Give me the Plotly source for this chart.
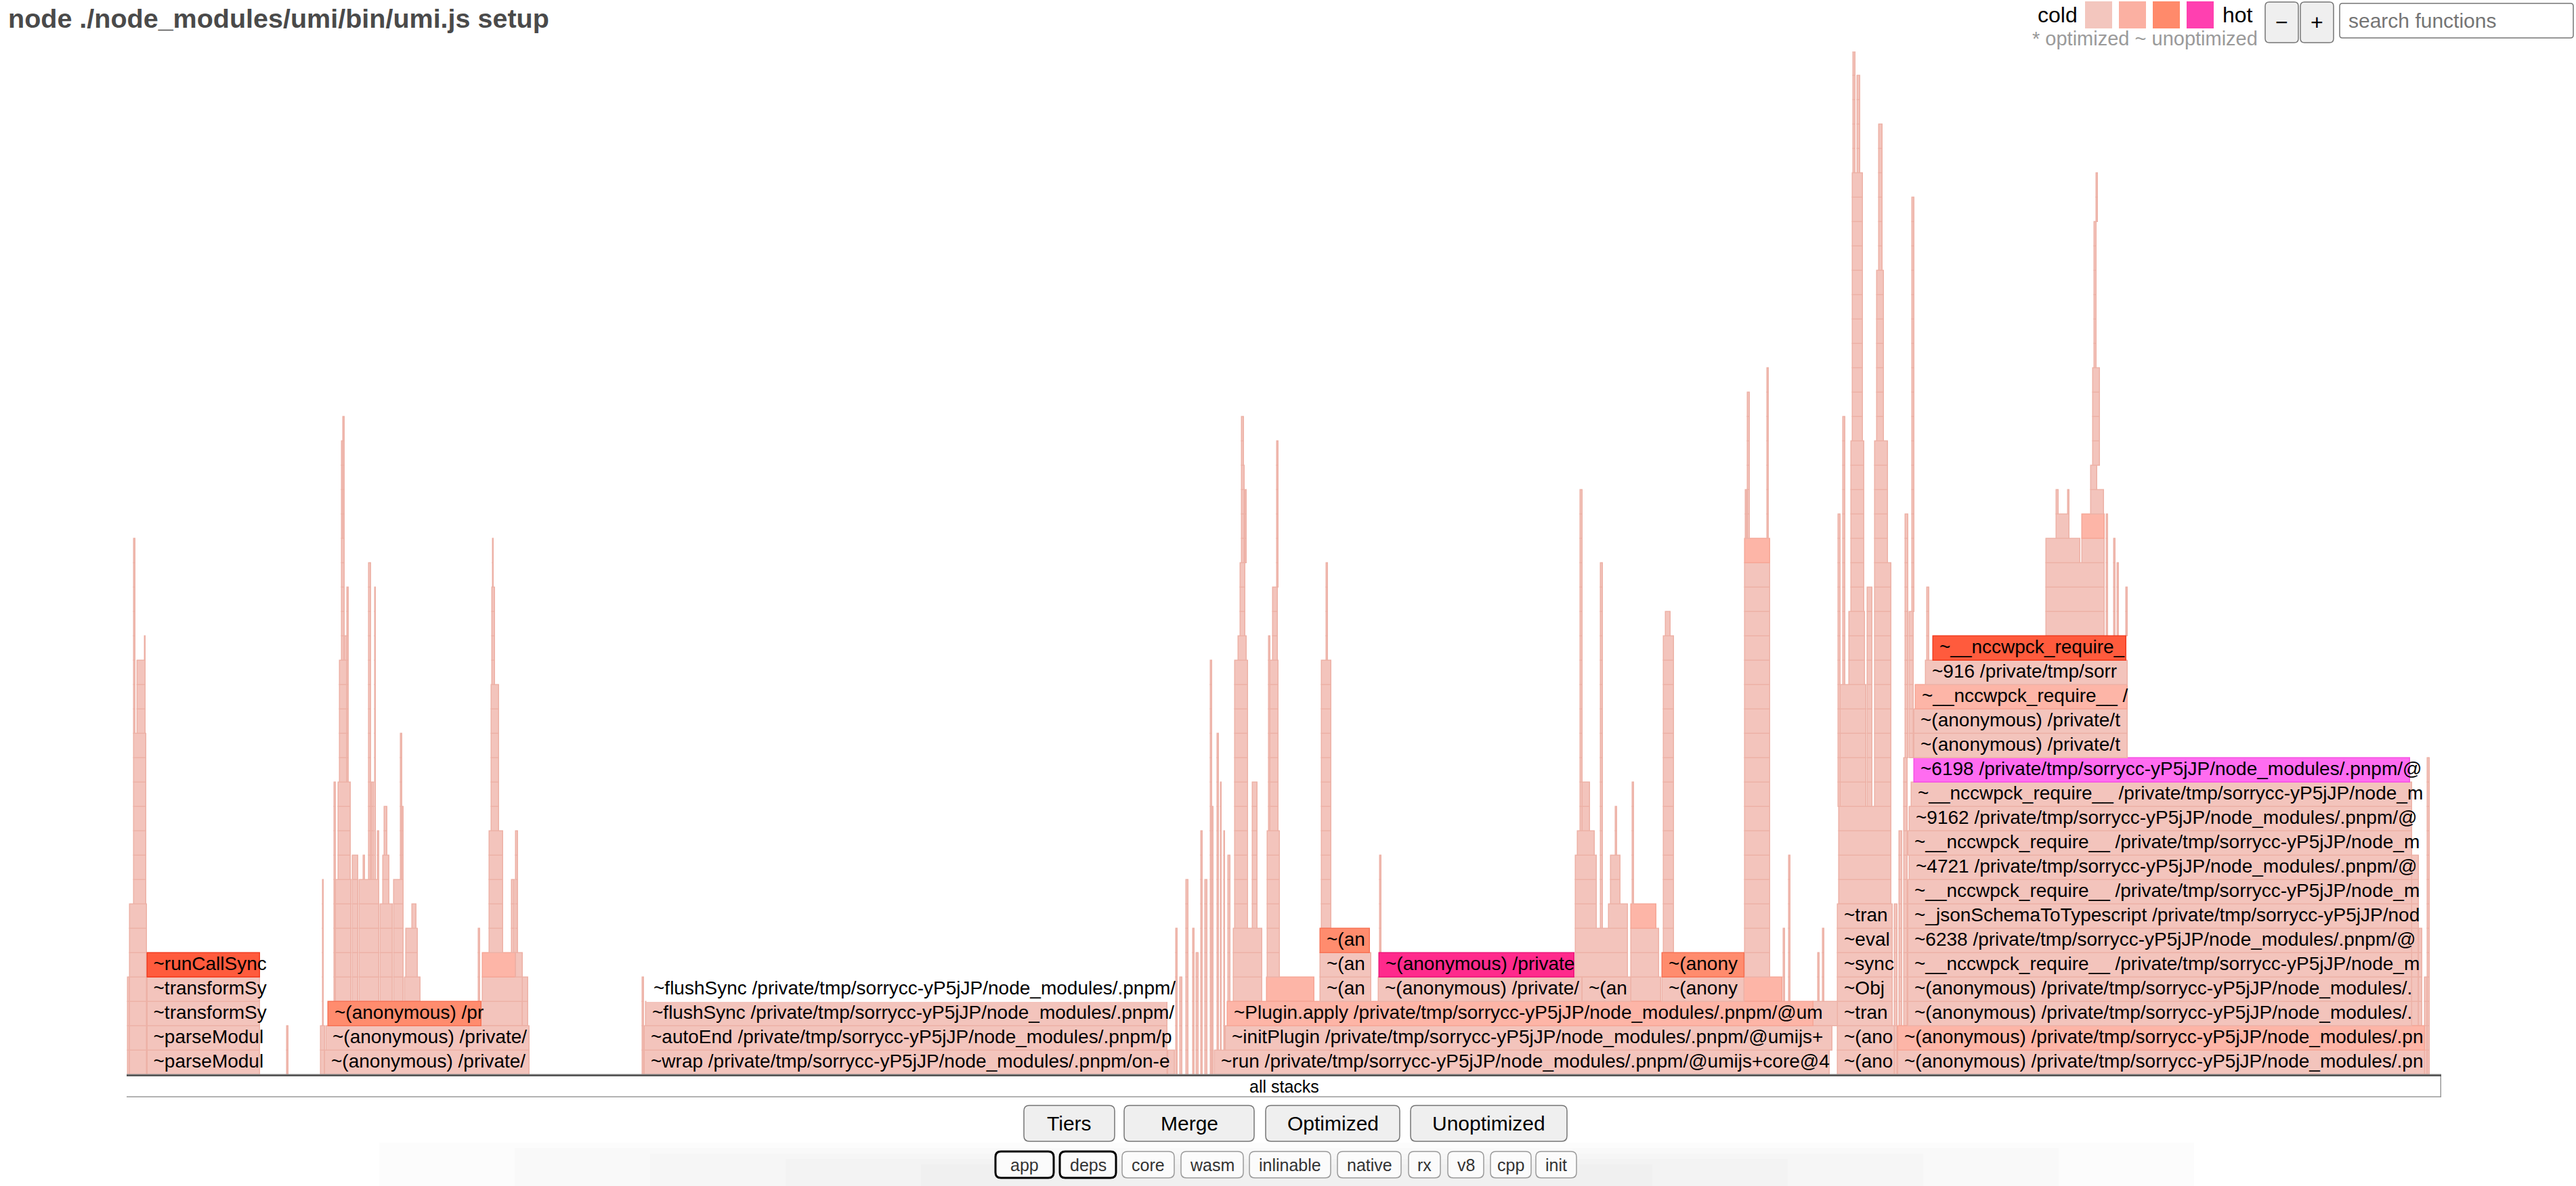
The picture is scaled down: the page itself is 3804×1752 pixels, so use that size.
import plotly.graph_objects as go

# --- page geometry (pixels of the 3804x1752 page) ---
W, H = 3804, 1752
L, R, T, B = 187, 3605, 76, 1624      # plot area
TOTAL = 3418                          # samples across the graph
MAX_DEPTH = 42
FONT = "Liberation Sans, Arial, Helvetica, sans-serif"

# heat index -> fill / edge
HEAT_FILL = ["#F3C4BC", "#FDB5A7", "#FF8C6E", "#FF5B3D", "#FF2A8C", "#FF6CF0", "#FFFFFF"]
HEAT_EDGE = ["#EDB1A6", "#F6A696", "#F77255", "#F23B1F", "#EC1679", "#F550E2", "#FFFFFF"]

# --- labelled frames: (start, end, depth, label, heat) ---
run_call_stack = [
    (30.5, 197, 0, "~parseModul", 0),
    (30.5, 197, 1, "~parseModul", 0),
    (30.5, 197, 2, "~transformSy", 0),
    (30.5, 197, 3, "~transformSy", 0),
    (30.5, 197, 4, "~runCallSync", 3),
]
anon_stack = [
    (293, 595, 0, "~(anonymous) /private/", 0),
    (295, 595, 1, "~(anonymous) /private/", 0),
    (298, 524, 2, "~(anonymous) /pr", 2),
]
flush_stack = [
    (765, 1537, 0, "~wrap /private/tmp/sorrycc-yP5jJP/node_modules/.pnpm/on-e", 0),
    (765, 1537, 1, "~autoEnd /private/tmp/sorrycc-yP5jJP/node_modules/.pnpm/p", 0),
    (767, 1537, 2, "~flushSync /private/tmp/sorrycc-yP5jJP/node_modules/.pnpm/", 0),
    (769, 1537, 3, "~flushSync /private/tmp/sorrycc-yP5jJP/node_modules/.pnpm/", 6),
]
run_stack = [
    (1607, 2515, 0, "~run /private/tmp/sorrycc-yP5jJP/node_modules/.pnpm/@umijs+core@4", 0),
    (1623, 2519, 1, "~initPlugin /private/tmp/sorrycc-yP5jJP/node_modules/.pnpm/@umijs+", 0),
    (1626, 2491, 2, "~Plugin.apply /private/tmp/sorrycc-yP5jJP/node_modules/.pnpm/@um", 1),
    (1763, 1838, 3, "~(an", 0),
    (1763, 1838, 4, "~(an", 0),
    (1763, 1836, 5, "~(an", 2),
    (1849, 2150, 3, "~(anonymous) /private/", 0),
    (1850, 2138, 4, "~(anonymous) /private", 4),
    (2150, 2222, 3, "~(an", 0),
    (2268, 2389, 3, "~(anony", 0),
    (2268, 2389, 4, "~(anony", 2),
]
tran_stack = [
    (2527, 2611, 0, "~(ano", 0),
    (2527, 2611, 1, "~(ano", 0),
    (2527, 2608, 2, "~tran", 0),
    (2527, 2608, 3, "~Obj", 0),
    (2527, 2608, 4, "~sync", 0),
    (2527, 2608, 5, "~eval", 0),
    (2527, 2608, 6, "~tran", 0),
]
schema_stack = [
    (2616, 3394, 0, "~(anonymous) /private/tmp/sorrycc-yP5jJP/node_modules/.pn", 0),
    (2616, 3394, 1, "~(anonymous) /private/tmp/sorrycc-yP5jJP/node_modules/.pn", 1),
    (2631, 3375, 2, "~(anonymous) /private/tmp/sorrycc-yP5jJP/node_modules/.", 0),
    (2631, 3375, 3, "~(anonymous) /private/tmp/sorrycc-yP5jJP/node_modules/.", 0),
    (2631, 3375, 4, "~__nccwpck_require__ /private/tmp/sorrycc-yP5jJP/node_m", 0),
    (2631, 3375, 5, "~6238 /private/tmp/sorrycc-yP5jJP/node_modules/.pnpm/@", 0),
    (2631, 3375, 6, "~_jsonSchemaToTypescript /private/tmp/sorrycc-yP5jJP/nod", 0),
    (2631, 3375, 7, "~__nccwpck_require__ /private/tmp/sorrycc-yP5jJP/node_m", 0),
    (2633, 3375, 8, "~4721 /private/tmp/sorrycc-yP5jJP/node_modules/.pnpm/@", 0),
    (2631, 3375, 9, "~__nccwpck_require__ /private/tmp/sorrycc-yP5jJP/node_m", 0),
    (2633, 3375, 10, "~9162 /private/tmp/sorrycc-yP5jJP/node_modules/.pnpm/@", 0),
    (2636, 3375, 11, "~__nccwpck_require__ /private/tmp/sorrycc-yP5jJP/node_m", 0),
    (2640, 3372, 12, "~6198 /private/tmp/sorrycc-yP5jJP/node_modules/.pnpm/@", 5),
    (2640, 2955, 13, "~(anonymous) /private/t", 0),
    (2640, 2955, 14, "~(anonymous) /private/t", 0),
    (2642, 2955, 15, "~__nccwpck_require__ /", 1),
    (2657, 2955, 16, "~916 /private/tmp/sorr", 0),
    (2668, 2953, 17, "~__nccwpck_require_", 3),
]

# --- unlabelled narrow frames: (start, end, lowest depth, highest depth[, heat]) ---
left_towers = [
    (2, 5, 0, 3), (5, 30, 0, 6), (11, 29, 7, 13), (16, 28, 14, 16),
    (11, 12.5, 14, 21), (26.5, 28, 17, 17), (237, 238.5, 0, 1),
]
anon_towers = [
    (287, 293, 0, 1), (289.5, 290.5, 2, 7), (524, 585, 2, 2), (585, 593, 0, 3),
    (307, 309, 3, 11), (309, 332, 3, 7), (313, 331, 8, 11), (315, 326, 12, 16),
    (317.5, 321.5, 17, 21), (319.5, 322, 22, 26), (317.5, 319.5, 22, 25),
    (326, 328, 12, 19), (321.5, 326, 17, 17),
    (334, 342, 3, 8), (344, 372.6, 3, 7), (350, 352, 8, 8), (358.3, 361.2, 8, 20),
    (366.5, 368.1, 8, 19), (362.4, 365.2, 8, 11), (370.6, 372.6, 8, 9),
    (374.6, 393, 3, 6), (378.7, 388.1, 7, 8), (380.8, 384.8, 9, 10),
    (395, 409.3, 3, 7), (405.2, 407.3, 8, 13), (407.3, 409.3, 8, 10),
    (411.4, 433.8, 3, 3), (413.4, 429.7, 4, 5), (421.6, 427.7, 6, 6),
    (519.5, 521.6, 3, 5), (525.7, 584.8, 3, 3), (525.7, 575, 4, 4, 1), (575, 584.8, 4, 4),
    (535.9, 556.3, 5, 9), (539.1, 550, 10, 15), (540, 544, 16, 19), (540.5, 542, 20, 21),
    (568.5, 572.6, 5, 7), (574.6, 577.5, 5, 9),
    (762, 764, 0, 3),
]
plugin_towers = [
    (1538, 1548, 0, 0), (1550, 1552, 0, 5), (1556, 1559, 0, 3), (1565, 1568, 0, 7),
    (1575, 1577, 0, 5), (1580, 1583, 0, 4), (1587, 1589, 0, 9), (1593, 1596, 0, 7),
    (1601, 1602.5, 0, 16), (1603, 1604.5, 0, 10), (1611, 1613, 1, 13),
    (1615.5, 1617, 1, 11), (1620.5, 1622, 1, 9),
    (1627, 1630, 3, 8), (1635, 1677, 3, 5), (1637, 1656, 6, 16), (1642, 1654, 17, 17),
    (1645, 1652, 18, 20), (1646.6, 1651, 21, 24), (1647.3, 1650, 25, 26),
    (1652, 1654, 21, 23), (1663, 1670, 6, 11),
    (1684, 1754, 3, 3, 1), (1685, 1703, 4, 9), (1688, 1701, 10, 16), (1693, 1700, 17, 19),
    (1698.6, 1701.4, 20, 25), (1687, 1689, 10, 17),
    (1764.5, 1778.5, 6, 16), (1771.5, 1773.6, 17, 20), (1851, 1853, 5, 8),
    (2140, 2217, 4, 5), (2140, 2171, 6, 8), (2143, 2168, 9, 9), (2150, 2161, 10, 11),
    (2147, 2150, 10, 23), (2177, 2180, 6, 20), (2189, 2217, 6, 6), (2192, 2206, 7, 8),
    (2199, 2201, 9, 10),
    (2222, 2266, 3, 3), (2222, 2263, 4, 5), (2222, 2259, 6, 6, 1), (2224, 2226, 7, 11),
    (2270, 2285, 5, 17), (2273, 2280, 18, 18),
    (2389, 2445, 3, 3, 1), (2390, 2427, 4, 20), (2390, 2427, 21, 21, 1),
    (2394, 2397, 22, 27), (2423, 2425, 22, 28), (2391, 2393, 22, 23),
    (2447, 2449, 3, 5), (2455, 2457, 3, 8),
    (2491, 2529, 2, 2), (2498, 2500, 3, 4), (2505, 2507, 3, 5),
]
tran_towers = [
    (2529, 2606, 7, 10), (2531, 2569, 11, 15), (2528, 2531, 11, 22), (2544, 2567, 16, 18),
    (2535, 2538, 16, 26), (2547, 2566, 19, 25), (2549, 2564, 26, 36), (2550, 2553, 37, 41),
    (2556, 2560, 37, 40), (2571, 2578, 11, 19), (2582, 2606, 11, 20), (2582, 2601, 21, 25),
    (2585, 2595, 26, 32), (2588, 2593, 33, 38),
    (2611, 2615, 0, 6), (2618, 2622, 2, 9), (2625, 2630, 2, 12), (2627, 2631, 13, 22),
    (2633, 2639, 13, 18), (2637, 2640, 19, 35), (2659, 2662, 17, 19),
]
schema_towers = [
    (2835, 2921, 18, 20), (2835, 2885, 21, 21), (2888, 2921, 21, 21), (2888, 2921, 22, 22, 1),
    (2850, 2869, 22, 22), (2850, 2853, 23, 23), (2867, 2869, 23, 23), (2901, 2920, 23, 23),
    (2901, 2910, 24, 24), (2904, 2914, 25, 28), (2906, 2909, 29, 34), (2908.5, 2910.5, 35, 36),
    (2924, 2926, 18, 22), (2935, 2937, 18, 21), (2940, 2942, 18, 20), (2953, 2955, 18, 19),
    (3375, 3385, 2, 8), (3385, 3390, 2, 5), (3394, 3398, 0, 3), (3398, 3401, 0, 12),
]

labelled = run_call_stack + anon_stack + flush_stack + run_stack + tran_stack + schema_stack
towers = left_towers + anon_towers + plugin_towers + tran_towers + schema_towers

# expand towers into one frame per depth, then put labelled frames on top
fx, fw, fy, fc, fe = [], [], [], [], []
for t in towers:
    s, e, lo, hi = t[:4]
    heat = t[4] if len(t) > 4 else 0
    for d in range(lo, hi + 1):
        fx.append(s); fw.append(e - s); fy.append(d + 0.5)
        fc.append(HEAT_FILL[heat]); fe.append(HEAT_EDGE[heat])
for s, e, d, _, heat in labelled:
    fx.append(s); fw.append(e - s); fy.append(d + 0.5)
    fc.append(HEAT_FILL[heat]); fe.append(HEAT_EDGE[heat])

fig = go.Figure()
fig.add_trace(go.Bar(
    y=fy, x=fw, base=fx, width=[1] * len(fy), orientation="h",
    marker=dict(color=fc, line=dict(color=fe, width=1.5)),
    hoverinfo="skip", showlegend=False,
))
# root frame
fig.add_trace(go.Bar(
    y=[-0.46], x=[TOTAL], base=[0], width=[0.92], orientation="h",
    marker=dict(color="white", line=dict(color="#9a9a9a", width=1.5)),
    hoverinfo="skip", showlegend=False,
))
fig.add_trace(go.Scatter(
    x=[s + 9 for s, e, d, _, h in labelled], y=[d + 0.5 for s, e, d, _, h in labelled],
    text=[lab for _, _, _, lab, _ in labelled], mode="text", textposition="middle right",
    textfont=dict(family=FONT, size=28, color="black"),
    hoverinfo="skip", showlegend=False, cliponaxis=False,
))


def px(x):
    return (x - L) / (R - L)


def py(y):
    return (B - y) / (B - T)


def rrect(x0, y0, x1, y1, r):
    X, Y = px, py
    return (f"M{X(x0 + r)},{Y(y0)} L{X(x1 - r)},{Y(y0)} Q{X(x1)},{Y(y0)} {X(x1)},{Y(y0 + r)} "
            f"L{X(x1)},{Y(y1 - r)} Q{X(x1)},{Y(y1)} {X(x1 - r)},{Y(y1)} "
            f"L{X(x0 + r)},{Y(y1)} Q{X(x0)},{Y(y1)} {X(x0)},{Y(y1 - r)} "
            f"L{X(x0)},{Y(y0 + r)} Q{X(x0)},{Y(y0)} {X(x0 + r)},{Y(y0)} Z")


shapes, notes = [], []


def label(x, y, text, size, color="black", anchor="left", bold=False):
    notes.append(dict(x=px(x), y=py(y), xref="paper", yref="paper", text=f"<b>{text}</b>" if bold else text,
                      showarrow=False, xanchor=anchor, yanchor="middle",
                      font=dict(family=FONT, size=size, color=color)))


def button(x0, y0, x1, y1, text, size, r=8, border="#767676", bw=1.5, fill="#efefef"):
    shapes.append(dict(type="path", path=rrect(x0, y0, x1, y1, r), xref="paper", yref="paper",
                       fillcolor=fill, line=dict(color=border, width=bw)))
    if text:
        label((x0 + x1) / 2, (y0 + y1) / 2, text, size, anchor="center")


# soft shadow at the foot of the page
for x0, x1, y0 in [(560, 3240, 1688), (760, 3040, 1696), (960, 2840, 1704),
                   (1160, 2640, 1712), (1360, 2440, 1720)]:
    shapes.append(dict(type="rect", xref="paper", yref="paper", x0=px(x0), x1=px(x1),
                       y0=py(1752), y1=py(y0), fillcolor="rgba(0,0,0,0.012)", line=dict(width=0),
                       layer="below"))

# root frame top rule and its label
shapes.append(dict(type="line", xref="x", yref="y", x0=0, x1=TOTAL, y0=-0.02, y1=-0.02,
                   line=dict(color="#555555", width=2.5)))
notes.append(dict(x=TOTAL / 2, y=-0.46, xref="x", yref="y", text="all stacks", showarrow=False,
                  font=dict(family=FONT, size=25, color="black")))

# title
label(10, 27, "node ./node_modules/umi/bin/umi.js setup", 39.5, color="#4a4a4a", bold=True)

# heat legend
label(3007, 22, "cold", 32)
legend_swatches = [(3079, "#F3C6BE"), (3129, "#FBB0A2"), (3179, "#FF8A6B"), (3229, "#FF40B0")]
for x0, c in legend_swatches:
    shapes.append(dict(type="rect", xref="paper", yref="paper", x0=px(x0), x1=px(x0 + 40),
                       y0=py(42), y1=py(2), fillcolor=c, line=dict(width=0)))
label(3280, 22, "hot", 32)
label(2999, 57, "* optimized ~ unoptimized", 29, color="#9a9a9a")
button(3345, 3, 3394, 63, "−", 32, r=6)
button(3397, 3, 3446, 63, "+", 32, r=6)
shapes.append(dict(type="path", path=rrect(3455, 5, 3800, 56, 4), xref="paper", yref="paper",
                   fillcolor="white", line=dict(color="#767676", width=1.5)))
label(3466, 30, "search functions", 30, color="#757575")

# view buttons
for x0, x1, t in [(1512, 1646, "Tiers"), (1660, 1852, "Merge"), (1869, 2067, "Optimized"),
                  (2083, 2314, "Unoptimized")]:
    button(x0, 1633, x1, 1686, t, 30)

# type filters
for x0, x1, t, on in [(1470, 1556, "app", True), (1565, 1648, "deps", True), (1657, 1734, "core", False),
                      (1744, 1836, "wasm", False), (1845, 1965, "inlinable", False),
                      (1975, 2069, "native", False), (2080, 2127, "rx", False), (2138, 2191, "v8", False),
                      (2201, 2261, "cpp", False), (2268, 2328, "init", False)]:
    shapes.append(dict(type="path", path=rrect(x0, 1701, x1, 1740, 8), xref="paper", yref="paper",
                       fillcolor="#fbfbfb", line=dict(color="black" if on else "#9a9a9a",
                                                      width=3 if on else 1.5)))
    label((x0 + x1) / 2, 1721, t, 25, color="#333333", anchor="center")

fig.update_layout(
    width=W, height=H, autosize=False,
    margin=dict(l=L, r=W - R, t=T, b=H - B, pad=0),
    paper_bgcolor="white", plot_bgcolor="white",
    barmode="overlay", bargap=0,
    xaxis=dict(range=[0, TOTAL], visible=False, fixedrange=True),
    yaxis=dict(range=[-1, MAX_DEPTH], visible=False, fixedrange=True),
    shapes=shapes, annotations=notes, showlegend=False,
)
# the page is the figure: drop the browser's default body margin and the mode bar
fig.write_html("out.html", config={"displayModeBar": False},
               post_script="document.body.style.margin='0';document.body.style.overflow='hidden';")
